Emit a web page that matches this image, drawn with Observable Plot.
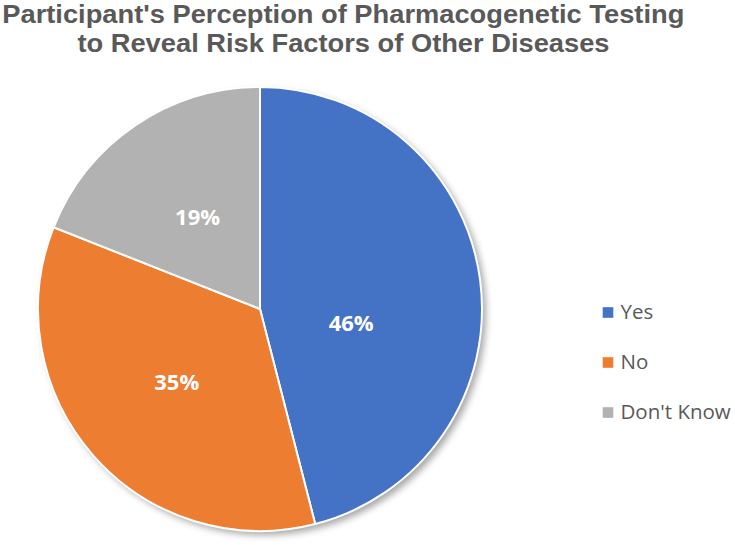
<!DOCTYPE html>
<html>
<head>
<meta charset="utf-8">
<script src="https://cdn.jsdelivr.net/npm/d3@7"></script>
<script src="https://cdn.jsdelivr.net/npm/@observablehq/plot@0.6"></script>
<style>
  html, body { margin: 0; padding: 0; background: #fff; }
  #wrap { width: 735px; height: 545px; overflow: hidden; }
  #title {
    height: 72px; width: 735px; text-align: center;
    font-family: "Liberation Sans", Arial, sans-serif; font-weight: bold;
    font-size: 26.5px; line-height: 29px; color: #595959;
    box-sizing: border-box;
  }
  #title span { display: inline-block; transform-origin: center; white-space: nowrap; }
</style>
</head>
<body>
<div id="wrap">
  <div id="title"><span id="t1">Participant's Perception of Pharmacogenetic Testing</span><br><span id="t2">to Reveal Risk Factors of Other Diseases</span></div>
  <div id="chart"></div>
</div>
<script>
const categories = ["Yes", "No", "Don't Know"];
const values = [46, 35, 19];
const labels = ["46%", "35%", "19%"];
const colors = ["#4472C4", "#ED7D31", "#B2B2B2"];

// condense title to match original width and centre
(function () {
  const t1 = document.getElementById("t1"), t2 = document.getElementById("t2");
  const s = 682 / t1.getBoundingClientRect().width;
  t1.style.transform = `translateX(-24px) scaleX(${s})`;
  t2.style.transform = `translateX(-24px) scaleX(${s})`;
})();

const W = 735, H = 473;
const cx = 260, cy = 237, R = 222;

const data = categories.map((c, i) => ({category: c, value: values[i], label: labels[i]}));

const pie = d3.pie().value(d => d.value).sort(null).startAngle(0).endAngle(2 * Math.PI);
const arcs = pie(data);
const arcGen = d3.arc().innerRadius(0).outerRadius(R);
const labelArc = d3.arc().innerRadius(R / 2).outerRadius(R / 2);
// manual nudge for the Yes label as in the original
const nudge = {"Yes": [-19, 28]};

function pieMark(index, scales, values_, dimensions, context) {
  const g = d3.select(context.document.createElementNS("http://www.w3.org/2000/svg", "g"));
  const defs = g.append("defs");
  const f = defs.append("filter").attr("id", "pieShadow").attr("x", "-10%").attr("y", "-10%").attr("width", "125%").attr("height", "125%");
  f.append("feDropShadow").attr("dx", 4).attr("dy", 4).attr("stdDeviation", 3.5).attr("flood-color", "#000").attr("flood-opacity", 0.35);
  const pg = g.append("g").attr("transform", `translate(${cx},${cy})`);
  pg.append("circle").attr("r", R).attr("fill", "#fff").attr("filter", "url(#pieShadow)");
  pg.selectAll("path.slice").data(arcs).join("path")
    .attr("class", "slice")
    .attr("d", arcGen)
    .attr("fill", d => scales.color(d.data.category))
    .attr("stroke", "#fff").attr("stroke-width", 2).attr("stroke-linejoin", "round");
  pg.selectAll("text.lbl").data(arcs).join("text")
    .attr("class", "lbl")
    .attr("transform", d => {
      const [x, y] = labelArc.centroid(d);
      const n = nudge[d.data.category] || [0, 0];
      return `translate(${x + n[0]},${y + n[1]})`;
    })
    .attr("text-anchor", "middle").attr("dy", "0.35em")
    .attr("fill", "#fff").attr("font-weight", "bold")
    .attr("font-size", 22).attr("font-family", "'Open Sans', 'Noto Sans', sans-serif")
    .text(d => d.data.label);
  return g.node();
}

const chart = Plot.plot({
  width: W, height: H,
  margin: 0,
  x: {domain: [0, W], range: [0, W], axis: null},
  y: {type: "point", domain: categories, range: [239.5, 339.5], padding: 0, axis: null},
  color: {domain: categories, range: colors},
  style: {fontFamily: "'Open Sans', 'Noto Sans', sans-serif", overflow: "visible"},
  marks: [
    pieMark,
    Plot.dot(categories, {x: () => 607.5, y: d => d, fill: d => d, symbol: "square", r: 6, stroke: null}),
    Plot.text(categories, {x: () => 620, y: d => d, text: d => d, textAnchor: "start", fill: "#595959", fontSize: 20.5})
  ]
});
document.getElementById("chart").appendChild(chart);
</script>
</body>
</html>
